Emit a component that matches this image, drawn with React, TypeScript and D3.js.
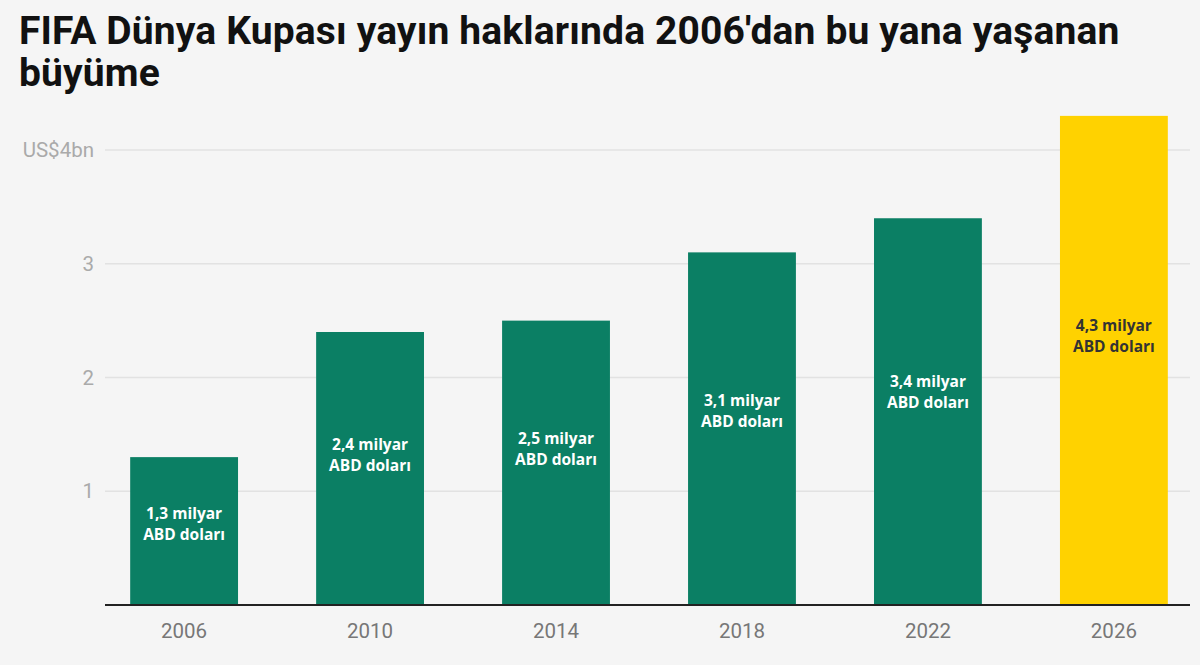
import React, { useEffect, useRef } from 'react';
import * as d3 from 'd3';

const years = ['2006', '2010', '2014', '2018', '2022', '2026'];
const values = [1.3, 2.4, 2.5, 3.1, 3.4, 4.3];
const labels = ['1,3 milyar', '2,4 milyar', '2,5 milyar', '3,1 milyar', '3,4 milyar', '4,3 milyar'];
const yTicks = [1, 2, 3, 4];
const titleLines = ["FIFA Dünya Kupası yayın haklarında 2006'dan bu yana yaşanan", 'büyüme'];

export default function App() {
  const svgRef = useRef<SVGSVGElement>(null);

  useEffect(() => {
    if (!svgRef.current) return;
    const svg = d3.select(svgRef.current);
    svg.selectAll('*').remove();

    const width = 1200;
    const height = 665;

    svg.append('rect').attr('width', width).attr('height', height).attr('fill', '#f5f5f5');

    // Title
    svg.append('g')
      .selectAll('text')
      .data(titleLines)
      .enter()
      .append('text')
      .attr('x', 19)
      .attr('y', (d, i) => 44 + i * 42)
      .attr('font-family', 'Roboto, sans-serif')
      .attr('font-weight', 'bold')
      .attr('font-size', '39px')
      .attr('letter-spacing', '0.15px')
      .attr('fill', '#111')
      .text(d => d);

    const x = d3.scaleBand<string>()
      .domain(years)
      .range([106, 1192])
      .paddingInner(0.42)
      .paddingOuter(0.13);

    const y = d3.scaleLinear().domain([0, 4]).range([605, 150]);

    // Grid lines
    svg.append('g')
      .selectAll('line')
      .data(yTicks)
      .enter()
      .append('line')
      .attr('x1', 105)
      .attr('x2', 1190)
      .attr('y1', d => y(d))
      .attr('y2', d => y(d))
      .attr('stroke', '#e2e2e2')
      .attr('stroke-width', 1.5);

    // Y tick labels
    svg.append('g')
      .selectAll('text')
      .data(yTicks)
      .enter()
      .append('text')
      .attr('x', 94)
      .attr('y', d => y(d))
      .attr('dy', '0.35em')
      .attr('text-anchor', 'end')
      .attr('font-family', 'Roboto, sans-serif')
      .attr('font-size', '20.5px')
      .attr('fill', '#aaa')
      .text(d => (d === 4 ? 'US$4bn' : String(d)));

    // Bars
    svg.append('g')
      .selectAll('rect')
      .data(values)
      .enter()
      .append('rect')
      .attr('x', (d, i) => x(years[i])!)
      .attr('width', x.bandwidth())
      .attr('y', d => y(d))
      .attr('height', d => y(0) - y(d))
      .attr('fill', (d, i) => (i === values.length - 1 ? '#ffd200' : '#0b7f64'));

    // Bar labels, two lines a little above mid-bar
    const labelG = svg.append('g')
      .attr('text-anchor', 'middle')
      .attr('font-family', '"Open Sans", sans-serif')
      .attr('font-weight', 'bold')
      .attr('font-size', '15.5px');

    const lineText = [labels, labels.map(() => 'ABD doları')];
    lineText.forEach((texts, li) => {
      labelG.append('g')
        .selectAll('text')
        .data(values)
        .enter()
        .append('text')
        .attr('x', (d, i) => x(years[i])! + x.bandwidth() / 2)
        .attr('y', d => y(d * 0.55) - 5 + li * 21)
        .attr('fill', (d, i) => (i === values.length - 1 ? '#333' : '#fff'))
        .text((d, i) => texts[i]);
    });

    // Baseline
    svg.append('line')
      .attr('x1', 105)
      .attr('x2', 1190)
      .attr('y1', y(0))
      .attr('y2', y(0))
      .attr('stroke', '#222')
      .attr('stroke-width', 2);

    // X labels
    svg.append('g')
      .selectAll('text')
      .data(years)
      .enter()
      .append('text')
      .attr('x', d => x(d)! + x.bandwidth() / 2)
      .attr('y', 638)
      .attr('text-anchor', 'middle')
      .attr('font-family', 'Roboto, sans-serif')
      .attr('font-size', '20.5px')
      .attr('fill', '#777')
      .text(d => d);
  }, []);

  return (
    <svg ref={svgRef} width="1200" height="665" style={{ display: 'block', position: 'absolute', left: 0, top: 0 }}></svg>
  );
}
